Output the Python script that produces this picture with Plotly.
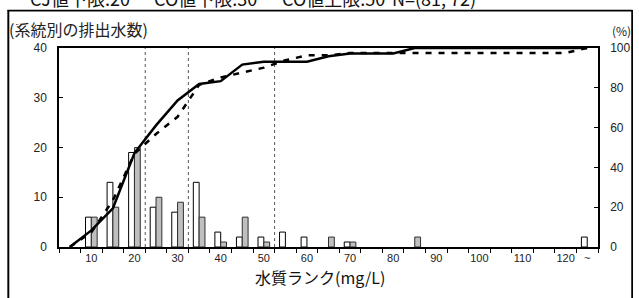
import numpy as np
import plotly.graph_objects as go

# Category centers (mg/L); 125 represents "~" (120 and above)
ranks = [5, 10, 15, 20, 25, 30, 35, 40, 45, 50, 55, 60, 65, 70, 75, 80, 85,
         90, 95, 100, 105, 110, 115, 120, 125]
white_counts = [0, 6, 13, 19, 8, 7, 13, 3, 2, 2, 3, 2, 0, 1, 0, 0, 0,
                0, 0, 0, 0, 0, 0, 0, 2]
gray_counts = [0, 6, 8, 20, 10, 9, 6, 1, 6, 1, 0, 0, 2, 1, 0, 0, 2,
               0, 0, 0, 0, 0, 0, 0, 0]
tick_vals = [10, 20, 30, 40, 50, 60, 70, 80, 90, 100, 110, 120, 125]
tick_text = ["10", "20", "30", "40", "50", "60", "70", "80", "90", "100", "110", "120", "~"]
limit_lines = [22.5, 32.5, 52.5]
header_texts = ["CJ値下限:20", "CO値下限:30", "CO値上限:50", "N=(81, 72)"]

white_cum = np.cumsum(white_counts) / np.sum(white_counts) * 100
gray_cum = np.cumsum(gray_counts) / np.sum(gray_counts) * 100
white_bars = [v if v else None for v in white_counts]
gray_bars = [v if v else None for v in gray_counts]

W, H = 639, 298
L, R, T, B = 59, 598, 48, 247
pw, ph = R - L, B - T


def px(x):
    return (x - L) / pw


def py(y):
    return (B - y) / ph


NUM_FONT = "Liberation Sans Narrow, Arial Narrow, Liberation Sans, sans-serif"
JP_FONT = "Noto Sans CJK JP, sans-serif"

fig = go.Figure()
bw = 1.35
fig.add_trace(go.Bar(x=ranks, y=white_bars, width=bw, offset=-bw,
                     marker=dict(color="white", line=dict(color="black", width=1)),
                     showlegend=False))
fig.add_trace(go.Bar(x=ranks, y=gray_bars, width=bw, offset=0,
                     marker=dict(color="#bfbfbf", line=dict(color="#303030", width=1)),
                     showlegend=False))
fig.add_trace(go.Scatter(x=ranks, y=gray_cum, yaxis="y2", mode="lines",
                         line=dict(color="black", width=2.5), showlegend=False))
fig.add_trace(go.Scatter(x=ranks, y=white_cum, yaxis="y2", mode="lines",
                         line=dict(color="black", width=2.5, dash="6px,7px"), showlegend=False))

shapes = []
for xv in limit_lines:
    shapes.append(dict(type="line", xref="x", yref="paper", x0=xv, x1=xv, y0=0, y1=1,
                       line=dict(color="#555555", width=1, dash="dot"), layer="below"))
frame = dict(color="black", width=1.3)
shapes.append(dict(type="rect", xref="paper", yref="paper",
                   x0=px(7.5), x1=px(632.5), y0=py(11.2), y1=py(9.8),
                   fillcolor="black", line=dict(width=0)))
shapes.append(dict(type="line", xref="paper", yref="paper",
                   x0=px(8), x1=px(8), y0=py(10), y1=py(305), line=frame))
shapes.append(dict(type="line", xref="paper", yref="paper",
                   x0=px(632), x1=px(632), y0=py(10), y1=py(305), line=frame))

annotations = [
    # outer frame drawn as an empty bordered box (top edge at y=10px)
    dict(text="&nbsp;", xref="paper", yref="paper", x=px(8), y=py(10),
         xanchor="left", yanchor="top", showarrow=False, width=622, height=300,
         bordercolor="black", borderwidth=1.3, borderpad=0, bgcolor="rgba(0,0,0,0)",
         font=dict(size=10)),
    dict(text="(系統別の排出水数)", xref="paper", yref="paper", x=px(7), y=py(29),
         xanchor="left", yanchor="middle", showarrow=False,
         font=dict(family=JP_FONT, size=16, color="#222")),
    dict(text="(%)", xref="paper", yref="paper", x=px(621), y=py(31),
         xanchor="center", yanchor="middle", showarrow=False,
         font=dict(family=JP_FONT, size=12, color="#222")),
    dict(text="水質ランク(mg/L)", xref="paper", yref="paper", x=px(320), y=py(277),
         xanchor="center", yanchor="middle", showarrow=False,
         font=dict(family=JP_FONT, size=16, color="#111")),
]
for t, xpix in zip(header_texts, [28, 152, 280, 390]):
    annotations.append(dict(text=t, xref="paper", yref="paper", x=px(xpix), y=py(-2),
                            xanchor="left", yanchor="middle", showarrow=False,
                            font=dict(family=JP_FONT, size=18, color="#111")))

fig.update_layout(
    width=W, height=H,
    margin=dict(l=L, r=W - R, t=T, b=H - B, pad=0, autoexpand=False),
    paper_bgcolor="white", plot_bgcolor="white",
    barmode="overlay",
    xaxis=dict(range=[2.5, 127.5], tickmode="array", tickvals=tick_vals, ticktext=tick_text,
               ticks="", showgrid=False, zeroline=False, automargin=False,
               showline=True, linecolor="black", linewidth=1.5, mirror=True,
               tickfont=dict(family=NUM_FONT, size=11, color="#222"),
               minor=dict(tickmode="linear", tick0=2.5, dtick=5, ticks="outside",
                          ticklen=4, tickcolor="black", showgrid=False)),
    yaxis=dict(range=[0, 40], tickvals=[0, 10, 20, 30, 40], ticks="inside", ticklen=4,
               tickcolor="black", showgrid=False, zeroline=False, automargin=False,
               showline=True, linecolor="black", linewidth=1.5,
               ticklabelstandoff=8,
               tickfont=dict(family=NUM_FONT, size=12, color="#222")),
    yaxis2=dict(range=[0, 100], tickvals=[0, 20, 40, 60, 80, 100], ticks="inside", ticklen=4,
                tickcolor="black", overlaying="y", side="right", showgrid=False,
                zeroline=False, showline=True, linecolor="black", linewidth=1.5,
                ticklabelstandoff=8, automargin=False,
                tickfont=dict(family=NUM_FONT, size=12, color="#222")),
    shapes=shapes,
    annotations=annotations,
)

fig.write_html("out.html", config={"displayModeBar": False})

# remove the default page margin so the figure sits at the window's top-left
with open("out.html", encoding="utf-8") as f:
    html = f.read()
html = html.replace("<head>", "<head><style>html,body{margin:0;padding:0;overflow:hidden;}</style>", 1)
with open("out.html", "w", encoding="utf-8") as f:
    f.write(html)
